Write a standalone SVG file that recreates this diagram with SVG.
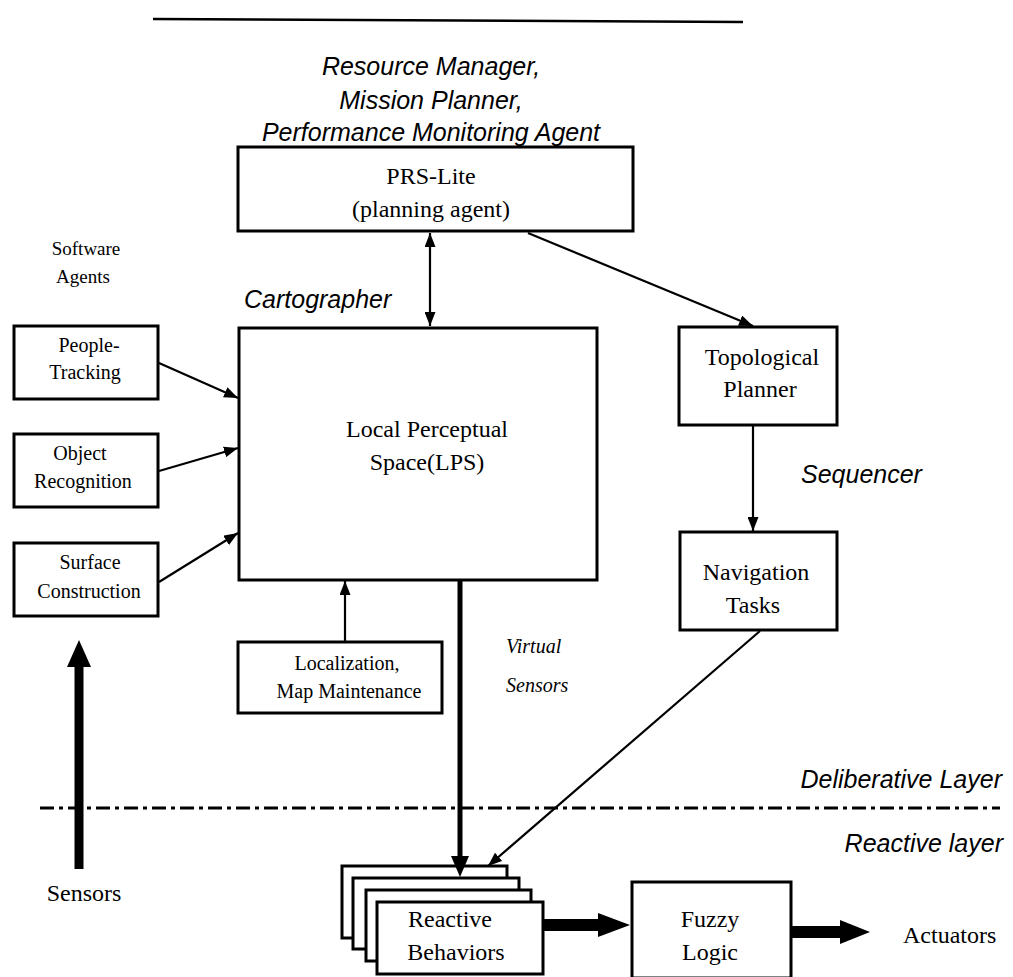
<svg xmlns="http://www.w3.org/2000/svg" width="1013" height="977" viewBox="0 0 1013 977">
  <style>
    .box { fill: #fff; stroke: #000; stroke-width: 3; }
    .line { fill: none; stroke: #000; stroke-width: 2.2; }
    .serif { font-family: "Liberation Serif", "Times New Roman", serif; fill: #000; }
    .ital { font-family: "Liberation Sans", Arial, sans-serif; font-style: italic; fill: #000; font-size: 25px; }
    .iserif { font-family: "Liberation Serif", "Times New Roman", serif; font-style: italic; fill: #000; font-size: 20px; }
    .mid { text-anchor: middle; }
  </style>
  <defs>
    <marker id="arr" markerUnits="userSpaceOnUse" markerWidth="14" markerHeight="11" refX="14" refY="5.5" orient="auto-start-reverse">
      <path d="M0,0 L14,5.5 L0,11 z" fill="#000"/>
    </marker>
  </defs>

  <rect width="1013" height="977" fill="#fff"/>

  <!-- header rule -->
  <line x1="153" y1="19" x2="743" y2="22" stroke="#000" stroke-width="2.5"/>

  <!-- upper-layer agent labels -->
  <g id="labels">
    <text class="ital mid" x="431" y="75">Resource Manager,</text>
    <text class="ital mid" x="431" y="109">Mission Planner,</text>
    <text class="ital mid" x="431" y="141">Performance Monitoring Agent</text>
    <text class="serif mid" x="86" y="255" font-size="19">Software</text>
    <text class="serif mid" x="83" y="283" font-size="19">Agents</text>
    <text class="ital" x="244" y="308">Cartographer</text>
    <text class="ital" x="801" y="483">Sequencer</text>
    <text class="iserif" x="506" y="653">Virtual</text>
    <text class="iserif" x="506" y="692">Sensors</text>
    <text class="ital" x="1002" y="788" text-anchor="end">Deliberative Layer</text>
    <text class="ital" x="1003" y="852" text-anchor="end">Reactive layer</text>
    <text class="serif mid" x="84" y="901" font-size="24">Sensors</text>
    <text class="serif" x="903" y="943" font-size="24">Actuators</text>
  </g>

  <!-- layer boundary -->
  <line x1="40" y1="808" x2="1000" y2="808" stroke="#000" stroke-width="3" stroke-dasharray="14 5 4 5"/>

  <!-- nodes -->
  <g id="prs-lite">
    <rect class="box" x="238" y="147" width="395" height="84"/>
    <text class="serif mid" x="431" y="184" font-size="24">PRS-Lite</text>
    <text class="serif mid" x="431" y="217" font-size="24">(planning agent)</text>
  </g>

  <g id="lps">
    <rect class="box" x="239" y="328" width="358" height="252"/>
    <text class="serif mid" x="427" y="437" font-size="24">Local Perceptual</text>
    <text class="serif mid" x="427" y="470" font-size="24">Space(LPS)</text>
  </g>

  <g id="people-tracking">
    <rect class="box" x="14" y="326" width="144" height="73"/>
    <text class="serif mid" x="89" y="352" font-size="20">People-</text>
    <text class="serif mid" x="85" y="379" font-size="20">Tracking</text>
  </g>

  <g id="object-recognition">
    <rect class="box" x="14" y="434" width="144" height="73"/>
    <text class="serif mid" x="80" y="460" font-size="20">Object</text>
    <text class="serif mid" x="83" y="488" font-size="20">Recognition</text>
  </g>

  <g id="surface-construction">
    <rect class="box" x="14" y="543" width="144" height="73"/>
    <text class="serif mid" x="90" y="569" font-size="20">Surface</text>
    <text class="serif mid" x="89" y="598" font-size="20">Construction</text>
  </g>

  <g id="localization">
    <rect class="box" x="238" y="642" width="204" height="71"/>
    <text class="serif mid" x="347" y="670" font-size="20">Localization,</text>
    <text class="serif mid" x="349" y="698" font-size="20">Map Maintenance</text>
  </g>

  <g id="topological-planner">
    <rect class="box" x="679" y="327" width="158" height="98"/>
    <text class="serif mid" x="762" y="365" font-size="24">Topological</text>
    <text class="serif mid" x="760" y="397" font-size="24">Planner</text>
  </g>

  <g id="navigation-tasks">
    <rect class="box" x="680" y="532" width="157" height="98"/>
    <text class="serif mid" x="756" y="580" font-size="24">Navigation</text>
    <text class="serif mid" x="753" y="613" font-size="24">Tasks</text>
  </g>

  <g id="reactive-behaviors">
    <rect class="box" x="342" y="866" width="165" height="72"/>
    <rect class="box" x="353" y="878" width="166" height="71"/>
    <rect class="box" x="366" y="890" width="165" height="71"/>
    <rect class="box" x="377" y="902" width="166" height="72"/>
    <text class="serif mid" x="450" y="927" font-size="24">Reactive</text>
    <text class="serif mid" x="456" y="960" font-size="24">Behaviors</text>
  </g>

  <g id="fuzzy-logic">
    <rect class="box" x="632" y="882" width="159" height="96"/>
    <text class="serif mid" x="710" y="927" font-size="24">Fuzzy</text>
    <text class="serif mid" x="710" y="960" font-size="24">Logic</text>
  </g>

  <!-- connectors -->
  <g id="connectors">
    <line class="line" x1="430" y1="233" x2="430" y2="326" marker-start="url(#arr)" marker-end="url(#arr)"/>
    <line class="line" x1="528" y1="233" x2="753" y2="326" marker-end="url(#arr)"/>
    <line class="line" x1="159" y1="363" x2="238" y2="398" marker-end="url(#arr)"/>
    <line class="line" x1="159" y1="471" x2="238" y2="448" marker-end="url(#arr)"/>
    <line class="line" x1="159" y1="582" x2="238" y2="533" marker-end="url(#arr)"/>
    <line class="line" x1="345" y1="641" x2="345" y2="581" marker-end="url(#arr)"/>
    <line class="line" x1="753" y1="426" x2="753" y2="531" marker-end="url(#arr)"/>
    <line class="line" x1="760" y1="631" x2="488" y2="866" marker-end="url(#arr)"/>
    <!-- virtual sensors: heavy shaft into the behaviour stack -->
    <rect x="457.5" y="580" width="5" height="278" fill="#000"/>
    <path d="M451,856 L469,856 L460,877 z" fill="#000"/>
    <!-- sensors feed upward -->
    <rect x="74.5" y="664" width="9" height="205" fill="#000"/>
    <path d="M67,667 L91,667 L79,640 z" fill="#000"/>
    <!-- behaviours to fuzzy logic -->
    <path d="M543,919 L598,919 L598,913 L630,925 L598,937 L598,931 L543,931 z" fill="#000"/>
    <!-- fuzzy logic to actuators -->
    <path d="M791,926 L840,926 L840,920 L870,932 L840,944 L840,938 L791,938 z" fill="#000"/>
  </g>
</svg>
